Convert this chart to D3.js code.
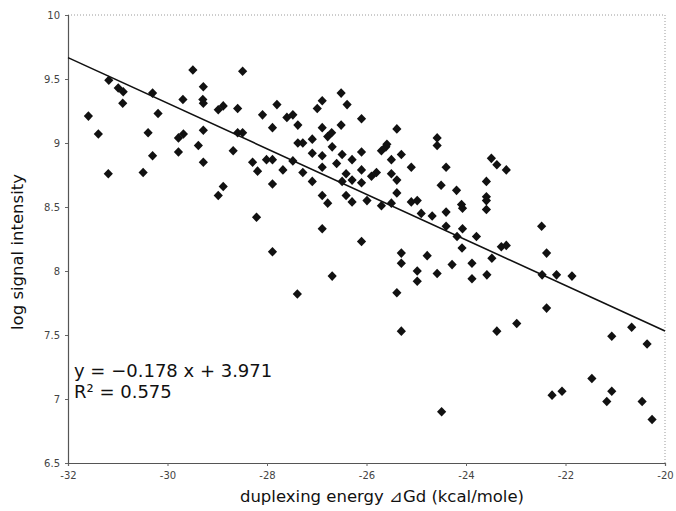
<!DOCTYPE html>
<html>
<head>
<meta charset="utf-8">
<script src="https://cdn.jsdelivr.net/npm/d3@7"></script>
<style>
html,body{margin:0;padding:0;background:#fff;}
svg{display:block;}
</style>
</head>
<body>
<svg id="chart" width="676" height="511"></svg>
<script>
// ---- data ----
const energy = [
-29.49,-31.18,-30.99,-30.89,-30.90,-30.30,-29.69,-29.28,-29.29,-29.28,
-31.59,-30.19,-31.39,-30.39,-29.78,-29.68,-29.28,-29.38,-30.30,-29.78,
-29.28,-31.19,-30.49,-28.98,-28.88,-28.98,-28.88,-28.68,-28.59,-28.59,
-28.49,-28.49,-28.29,-28.19,-28.21,-28.09,-27.89,-28.01,-27.89,-27.89,
-27.89,-27.68,-27.80,-27.60,-27.48,-27.38,-27.48,-27.38,-27.28,-27.28,
-27.09,-27.09,-27.09,-26.99,-26.89,-26.89,-26.89,-26.89,-26.89,-26.78,
-26.89,-26.78,-26.70,-26.69,-26.60,-26.51,-26.39,-26.10,-26.51,-26.10,
-26.49,-26.29,-26.10,-26.41,-26.29,-26.49,-26.10,-26.41,-26.29,-26.10,
-26.69,-27.39,-25.39,-24.58,-24.58,-25.70,-25.61,-25.59,-25.30,-25.50,
-25.90,-25.80,-25.50,-25.39,-25.10,-24.40,-25.39,-24.50,-24.19,-23.49,
-23.38,-23.19,-23.59,-23.59,-23.59,-23.59,-25.99,-25.70,-25.50,-25.10,
-24.98,-24.90,-24.68,-24.40,-24.09,-24.07,-24.40,-24.07,-24.18,-23.79,
-23.29,-23.19,-24.08,-25.30,-25.30,-24.78,-24.98,-24.98,-24.58,-24.28,
-23.88,-23.88,-23.58,-23.48,-25.39,-25.30,-23.38,-24.49,-22.98,-22.47,
-22.38,-22.38,-22.18,-21.87,-22.48,-21.47,-22.27,-22.07,-21.07,-21.17,
-21.07,-20.67,-20.36,-20.46,-20.26
];
const logSignal = [
9.57,9.49,9.43,9.40,9.31,9.39,9.34,9.44,9.34,9.31,
9.21,9.23,9.07,9.08,9.04,9.07,9.10,8.98,8.90,8.93,
8.85,8.76,8.77,8.59,8.66,9.26,9.29,8.94,9.27,9.08,
9.08,9.56,8.85,8.78,8.42,9.22,9.12,8.87,8.87,8.68,
8.15,8.79,9.30,9.20,9.22,9.14,8.86,9.00,9.00,8.77,
9.03,8.92,8.70,9.27,9.33,9.12,8.90,8.81,8.59,8.53,
8.33,9.05,9.08,8.97,8.84,9.39,9.30,9.19,9.14,8.93,
8.91,8.87,8.79,8.76,8.71,8.70,8.69,8.59,8.54,8.23,
7.96,7.82,9.11,9.04,8.98,8.94,8.97,8.99,8.91,8.87,
8.74,8.77,8.76,8.71,8.81,8.81,8.61,8.67,8.63,8.88,
8.83,8.79,8.70,8.58,8.55,8.48,8.55,8.51,8.53,8.54,
8.55,8.45,8.43,8.46,8.52,8.49,8.35,8.33,8.27,8.27,
8.19,8.20,8.18,8.14,8.06,8.12,8.00,7.92,7.98,8.05,
8.06,7.94,7.97,8.10,7.83,7.53,7.53,6.90,7.59,7.97,
8.14,7.71,7.97,7.96,8.35,7.16,7.03,7.06,7.49,6.98,
7.06,7.56,7.43,6.98,6.84
];
const xTicks = [-32,-30,-28,-26,-24,-22,-20];
const yTicks = [6.5,7,7.5,8,8.5,9,9.5,10];
const eqLines = ["y = \u22120.178 x + 3.971", "R\u00B2 = 0.575"];
const xTitle = "duplexing energy  \u22BFGd (kcal/mole)";
const yTitle = "log signal intensity";

// trend line end points as drawn in the reference
const fitEnds = [-32, -20];
const fitVals = [9.667, 7.531];

// ---- layout ----
const svg = d3.select("#chart");
const m = {left:68, right:11, top:15, bottom:48};
const W = 676, H = 511;
const x = d3.scaleLinear().domain([-32,-20]).range([m.left, W - m.right]);
const y = d3.scaleLinear().domain([6.5,10]).range([H - m.bottom, m.top]);

const g = svg.append("g");

// frame: top & right faint dotted
g.append("line").attr("x1",x(-32)).attr("x2",x(-20)).attr("y1",y(10)).attr("y2",y(10))
  .attr("stroke","#9a9a9a").attr("stroke-width",1).attr("stroke-dasharray","1,2");
g.append("line").attr("x1",x(-20)).attr("x2",x(-20)).attr("y1",y(10)).attr("y2",y(6.5))
  .attr("stroke","#9a9a9a").attr("stroke-width",1).attr("stroke-dasharray","1,2");

// axes
const xAxis = d3.axisBottom(x).tickValues(xTicks).tickSize(3).tickPadding(6)
  .tickFormat(d => String(d));
const yAxis = d3.axisLeft(y).tickValues(yTicks).tickSize(3).tickPadding(5)
  .tickFormat(d => String(d));

const gx = g.append("g").attr("transform", `translate(0,${y(6.5)})`).call(xAxis);
const gy = g.append("g").attr("transform", `translate(${x(-32)},0)`).call(yAxis);
[gx, gy].forEach(a => {
  a.select(".domain").attr("stroke","#555").attr("stroke-width",1.2);
  a.selectAll(".tick line").attr("stroke","#666");
  a.selectAll(".tick text").attr("fill","#444").style("font-family","DejaVu Sans, sans-serif").style("font-size","10px");
});

// regression line
g.append("line")
  .attr("x1", x(fitEnds[0])).attr("y1", y(fitVals[0]))
  .attr("x2", x(fitEnds[1])).attr("y2", y(fitVals[1]))
  .attr("stroke","#111").attr("stroke-width",1.6);

// points (diamonds)
const pts = energy.map((e,i) => ({e, s: logSignal[i]}));
g.append("g").selectAll("path").data(pts).enter().append("path")
  .attr("d","M0,-4.8L4.6,0L0,4.8L-4.6,0Z")
  .attr("transform", d => `translate(${x(d.e)},${y(d.s)})`)
  .attr("fill","#111");

// equation text
g.append("text").attr("x", 74).attr("y", 377)
  .style("font-family","DejaVu Sans, sans-serif").style("font-size","18px").attr("fill","#111")
  .selectAll("tspan").data(eqLines).enter().append("tspan")
  .attr("x",74).attr("dy",(d,i)=> i ? 21 : 0).text(d => d);

// axis titles
g.append("text").attr("x", 382).attr("y", 502).attr("text-anchor","middle")
  .style("font-family","DejaVu Sans, sans-serif").style("font-size","16.5px").attr("fill","#111")
  .text(xTitle);
g.append("text").attr("transform","translate(23,252) rotate(-90)").attr("text-anchor","middle")
  .style("font-family","DejaVu Sans, sans-serif").style("font-size","16.5px").attr("fill","#111")
  .text(yTitle);
</script>
</body>
</html>
